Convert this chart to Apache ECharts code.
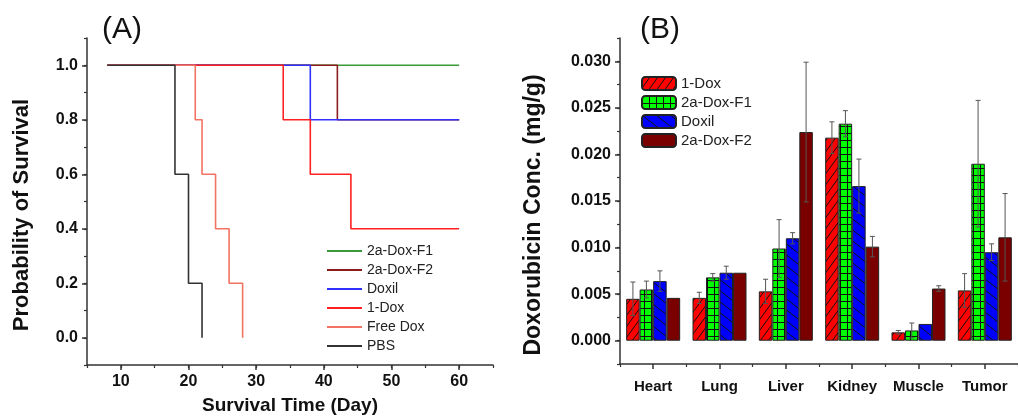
<!DOCTYPE html>
<html>
<head>
<meta charset="utf-8">
<script src="https://cdn.jsdelivr.net/npm/echarts@6/dist/echarts.min.js"></script>
<style>
html,body{margin:0;padding:0;background:#fff;}
#c{width:1018px;height:417px;}
</style>
</head>
<body>
<div id="c"></div>
<script>
// ---------- Panel A data (Kaplan-Meier survival) ----------
const survivalNames = ['2a-Dox-F1', '2a-Dox-F2', 'Doxil', '1-Dox', 'Free Dox', 'PBS'];
const survF1 = [[8, 1.0], [60, 1.0]];
const survF2 = [[8, 1.0], [42, 0.8], [60, 0.8]];
const survDoxil = [[8, 1.0], [38, 0.8], [60, 0.8]];
const surv1Dox = [[8, 1.0], [34, 0.8], [38, 0.6], [44, 0.4], [60, 0.4]];
const survFreeDox = [[8, 1.0], [21, 0.8], [22, 0.6], [24, 0.4], [26, 0.2], [28, 0.0]];
const survPBS = [[8, 1.0], [18, 0.6], [20, 0.2], [22, 0.0]];
const survXTicks = [10, 20, 30, 40, 50, 60];
const survYTicks = [0.0, 0.2, 0.4, 0.6, 0.8, 1.0];

// ---------- Panel B data (biodistribution) ----------
const organs = ['Heart', 'Lung', 'Liver', 'Kidney', 'Muscle', 'Tumor'];
const barNames = ['1-Dox', '2a-Dox-F1', 'Doxil', '2a-Dox-F2'];
const conc1Dox = [0.0045, 0.0046, 0.0053, 0.0218, 0.0009, 0.0054];
const err1Dox  = [0.0018, 0.0006, 0.0013, 0.0017, 0.0002, 0.0018];
const concF1   = [0.0055, 0.0068, 0.0099, 0.0233, 0.0011, 0.0190];
const errF1    = [0.0009, 0.0004, 0.0031, 0.0014, 0.0008, 0.0068];
const concDoxil = [0.0064, 0.0073, 0.0110, 0.0166, 0.0018, 0.0095];
const errDoxil  = [0.0011, 0.0007, 0.0006, 0.0029, 0.0000, 0.0009];
const concF2   = [0.0046, 0.0073, 0.0224, 0.0101, 0.0056, 0.0111];
const errF2    = [0.0000, 0.0000, 0.0075, 0.0011, 0.0003, 0.0047];
const concYTicks = [0.000, 0.005, 0.010, 0.015, 0.020, 0.025, 0.030];

// ---------- styles ----------
const FONT = 'Liberation Sans, Arial, sans-serif';
const AX = '#333';
const lineColors = ['#3a9a3a', '#8b1c1c', '#3030ff', '#ff2020', '#f27363', '#333333'];

function tile(bg, w, h, draw) {
  const c = document.createElement('canvas');
  c.width = w; c.height = h;
  const g = c.getContext('2d');
  g.fillStyle = bg; g.fillRect(0, 0, w, h);
  g.strokeStyle = '#111'; g.lineWidth = 1;
  g.beginPath(); draw(g, w, h); g.stroke();
  return c;
}
const patRed = tile('#ff0000', 8, 11, (g, w, h) => {
  for (const k of [-w, 0, w]) { g.moveTo(k, h); g.lineTo(k + w, 0); }
});
const patGreen = tile('#00ff00', 7, 7, (g, w, h) => {
  g.moveTo(0.5, 0); g.lineTo(0.5, h); g.moveTo(0, 0.5); g.lineTo(w, 0.5);
});
const patBlue = tile('#0000ff', 14, 11, (g, w, h) => {
  for (const k of [-w, 0, w]) { g.moveTo(k, 0); g.lineTo(k + w, h); }
});
const barFills = [
  { image: patRed, repeat: 'repeat' },
  { image: patGreen, repeat: 'repeat' },
  { image: patBlue, repeat: 'repeat' },
  '#7a0000'
];
const concSets = [conc1Dox, concF1, concDoxil, concF2];
const errSets = [err1Dox, errF1, errDoxil, errF2];
const CAT_GAP = 0.186;

const tickLbl = { fontSize: 16, fontWeight: 'bold', color: '#111', fontFamily: FONT };

function mainAxis(extra) {
  return Object.assign({
    type: 'value',
    axisLine: { show: true, onZero: false, lineStyle: { color: AX, width: 1.5 } },
    splitLine: { show: false }
  }, extra);
}
function minorAxis(extra) {
  return Object.assign({
    type: 'value',
    axisLine: { show: false, onZero: false },
    axisLabel: { show: false },
    axisTick: { show: true, length: 3, lineStyle: { color: AX, width: 1.2 } },
    splitLine: { show: false }
  }, extra);
}

const survSets = [survF1, survF2, survDoxil, surv1Dox, survFreeDox, survPBS];
const series = [];
survivalNames.forEach((n, i) => {
  series.push({
    name: n, type: 'line', step: 'end', symbol: 'none',
    xAxisIndex: 0, yAxisIndex: 0,
    lineStyle: { color: lineColors[i], width: 1.6 },
    itemStyle: { color: lineColors[i] },
    data: survSets[i]
  });
});
barNames.forEach((n, i) => {
  series.push({
    name: 'B|' + n, type: 'bar', xAxisIndex: 2, yAxisIndex: 2,
    barGap: '0%', barCategoryGap: (CAT_GAP * 100) + '%',
    itemStyle: { color: barFills[i], borderColor: '#222', borderWidth: 1 },
    data: concSets[i]
  });
});
barNames.forEach((n, i) => {
  series.push({
    name: 'err' + i, type: 'custom', xAxisIndex: 2, yAxisIndex: 2, z: 5,
    data: organs.map((o, j) => [j, concSets[i][j], errSets[i][j]]),
    renderItem: function (params, api) {
      const j = api.value(0), v = api.value(1), e = api.value(2);
      if (!e) return null;
      const band = api.size([1, 0])[0];
      const bw = band * (1 - CAT_GAP) / 4;
      const c = api.coord([j, v]);
      const x = c[0] + (i - 1.5) * bw;
      const yt = api.coord([j, v + e])[1];
      const yb = api.coord([j, v - e])[1];
      const st = { stroke: '#555', lineWidth: 1 };
      const h = 2.5;
      return { type: 'group', children: [
        { type: 'line', shape: { x1: x, y1: yt, x2: x, y2: yb }, style: st },
        { type: 'line', shape: { x1: x - h, y1: yt, x2: x + h, y2: yt }, style: st },
        { type: 'line', shape: { x1: x - h, y1: yb, x2: x + h, y2: yb }, style: st }
      ] };
    }
  });
});

const option = {
  animation: false,
  backgroundColor: '#fff',
  grid: [
    { left: 87, top: 38, width: 406, height: 327 },
    { left: 620, top: 38, width: 406, height: 326 }
  ],
  xAxis: [
    mainAxis({ gridIndex: 0, position: 'bottom', min: 5, max: 65,
      axisTick: { show: true, length: 5, customValues: survXTicks, lineStyle: { color: AX, width: 1.5 } },
      axisLabel: Object.assign({ customValues: survXTicks, margin: 9 }, tickLbl) }),
    minorAxis({ gridIndex: 0, position: 'bottom', min: 5, max: 65, interval: 5 }),
    { type: 'category', gridIndex: 1, position: 'bottom', data: organs,
      axisLine: { show: true, onZero: false, lineStyle: { color: AX, width: 1.5 } },
      axisTick: { show: true, alignWithLabel: true, length: 5, lineStyle: { color: AX, width: 1.5 } },
      axisLabel: { margin: 15, fontSize: 15, fontWeight: 'bold', color: '#111', fontFamily: FONT },
      splitLine: { show: false } },
    minorAxis({ gridIndex: 1, position: 'bottom', min: 0, max: 6, interval: 1 })
  ],
  yAxis: [
    mainAxis({ gridIndex: 0, position: 'left', min: -0.1, max: 1.1,
      axisTick: { show: true, length: 5, customValues: survYTicks, lineStyle: { color: AX, width: 1.5 } },
      axisLabel: Object.assign({ customValues: survYTicks, margin: 9, formatter: v => v.toFixed(1) }, tickLbl) }),
    minorAxis({ gridIndex: 0, position: 'left', min: -0.1, max: 1.1, interval: 0.1 }),
    mainAxis({ gridIndex: 1, position: 'left', min: -0.0025, max: 0.0325,
      axisTick: { show: true, length: 5, customValues: concYTicks, lineStyle: { color: AX, width: 1.5 } },
      axisLabel: Object.assign({ customValues: concYTicks, margin: 9, formatter: v => v.toFixed(3) }, tickLbl) }),
    minorAxis({ gridIndex: 1, position: 'left', min: -0.0025, max: 0.0325, interval: 0.0025 })
  ],
  legend: [
    { left: 327, top: 243, orient: 'vertical', selectedMode: false, padding: 0,
      icon: 'rect', itemWidth: 35, itemHeight: 2, itemGap: 3,
      data: survivalNames,
      textStyle: { fontSize: 14, color: '#222', fontFamily: FONT, lineHeight: 16 } },
    { left: 641, top: 76, orient: 'vertical', selectedMode: false, padding: 0,
      itemWidth: 34, itemHeight: 13, itemGap: 4,
      data: barNames.map(n => 'B|' + n),
      formatter: n => n.replace('B|', ''),
      textStyle: { fontSize: 15, color: '#222', fontFamily: FONT } }
  ],
  graphic: [
    { type: 'text', x: 102, y: 15, style: { text: '(A)', font: '30px ' + FONT, fill: '#111' } },
    { type: 'text', x: 640, y: 15, style: { text: '(B)', font: '30px ' + FONT, fill: '#111' } },
    { type: 'text', x: 22, y: 215, rotation: Math.PI / 2,
      style: { text: 'Probability of Survival', font: 'bold 22px ' + FONT, fill: '#111', textAlign: 'center', textVerticalAlign: 'middle' } },
    { type: 'text', x: 290, y: 406,
      style: { text: 'Survival Time (Day)', font: 'bold 19px ' + FONT, fill: '#111', textAlign: 'center', textVerticalAlign: 'middle' } },
    { type: 'text', x: 534, y: 215, rotation: Math.PI / 2,
      style: { text: 'Doxorubicin Conc. (mg/g)', font: 'bold 23px ' + FONT, fill: '#111', textAlign: 'center', textVerticalAlign: 'middle' } }
  ],
  series: series
};
const chart = echarts.init(document.getElementById('c'), null, { renderer: 'canvas' });
chart.setOption(option);
</script>
</body>
</html>
